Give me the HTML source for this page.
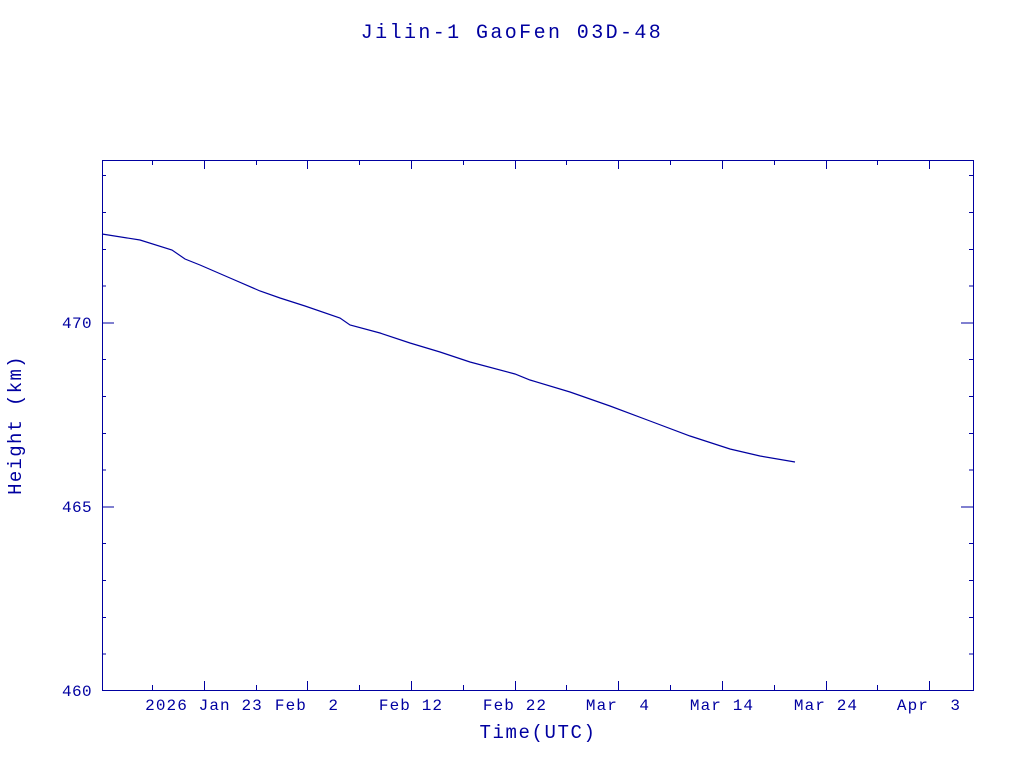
<!DOCTYPE html>
<html><head><style>
html,body{margin:0;padding:0;background:#fff;}
svg{display:block;}
text{font-family:"Liberation Mono","DejaVu Sans Mono",monospace;fill:#0000a0;white-space:pre;}
</style></head><body>
<svg width="1024" height="768" viewBox="0 0 1024 768" xmlns="http://www.w3.org/2000/svg" xml:space="preserve">
<g stroke="#0000a0" stroke-width="1" fill="none" shape-rendering="crispEdges">
<rect x="102.5" y="160.5" width="871" height="530"/>
<path d="M102 175.7h4M102 212.5h4M102 249.3h4M102 286.1h4M102 322.9h12M102 359.7h4M102 396.5h4M102 433.3h4M102 470.1h4M102 506.9h12M102 543.7h4M102 580.5h4M102 617.3h4M102 654.1h4
M973 175.7h-4M973 212.5h-4M973 249.3h-4M973 286.1h-4M973 322.9h-12M973 359.7h-4M973 396.5h-4M973 433.3h-4M973 470.1h-4M973 506.9h-12M973 543.7h-4M973 580.5h-4M973 617.3h-4M973 654.1h-4
M152.5 690v-5M204.5 690v-9M256.5 690v-5M307.5 690v-9M359.5 690v-5M411.5 690v-9M463.5 690v-5M515.5 690v-9M566.5 690v-5M618.5 690v-9M670.5 690v-5M722.5 690v-9M774.5 690v-5M826.5 690v-9M877.5 690v-5M929.5 690v-9
M152.5 160v5M204.5 160v9M256.5 160v5M307.5 160v9M359.5 160v5M411.5 160v9M463.5 160v5M515.5 160v9M566.5 160v5M618.5 160v9M670.5 160v5M722.5 160v9M774.5 160v5M826.5 160v9M877.5 160v5M929.5 160v9"/>
</g>
<polyline fill="none" stroke="#0000a0" stroke-width="1.2" points="102,234 140,240 172,250 185,259 200,265 230,278 260,291 280,298 305,306 340,318 350,325 380,333 410,343 440,352 470,362 515,374 530,380 570,392 610,406 650,421 690,436 730,449 760,456 795,462"/>
<text x="512" y="38" font-size="20" letter-spacing="2.4" text-anchor="middle">Jilin-1 GaoFen 03D-48</text>
<g font-size="16" letter-spacing="0.4" text-anchor="end">
<text x="92" y="328">470</text>
<text x="92" y="512">465</text>
<text x="92" y="696">460</text>
</g>
<g font-size="16" letter-spacing="1.1" text-anchor="middle">
<text x="204" y="710">2026 Jan 23</text>
<text x="307" y="710">Feb  2</text>
<text x="411" y="710">Feb 12</text>
<text x="515" y="710">Feb 22</text>
<text x="618" y="710">Mar  4</text>
<text x="722" y="710">Mar 14</text>
<text x="826" y="710">Mar 24</text>
<text x="929" y="710">Apr  3</text>
</g>
<text x="538" y="738" font-size="19" letter-spacing="1.6" text-anchor="middle">Time(UTC)</text>
<text transform="translate(21,425) rotate(-90)" font-size="19" letter-spacing="1.3" text-anchor="middle">Height (km)</text>
</svg>
</body></html>
